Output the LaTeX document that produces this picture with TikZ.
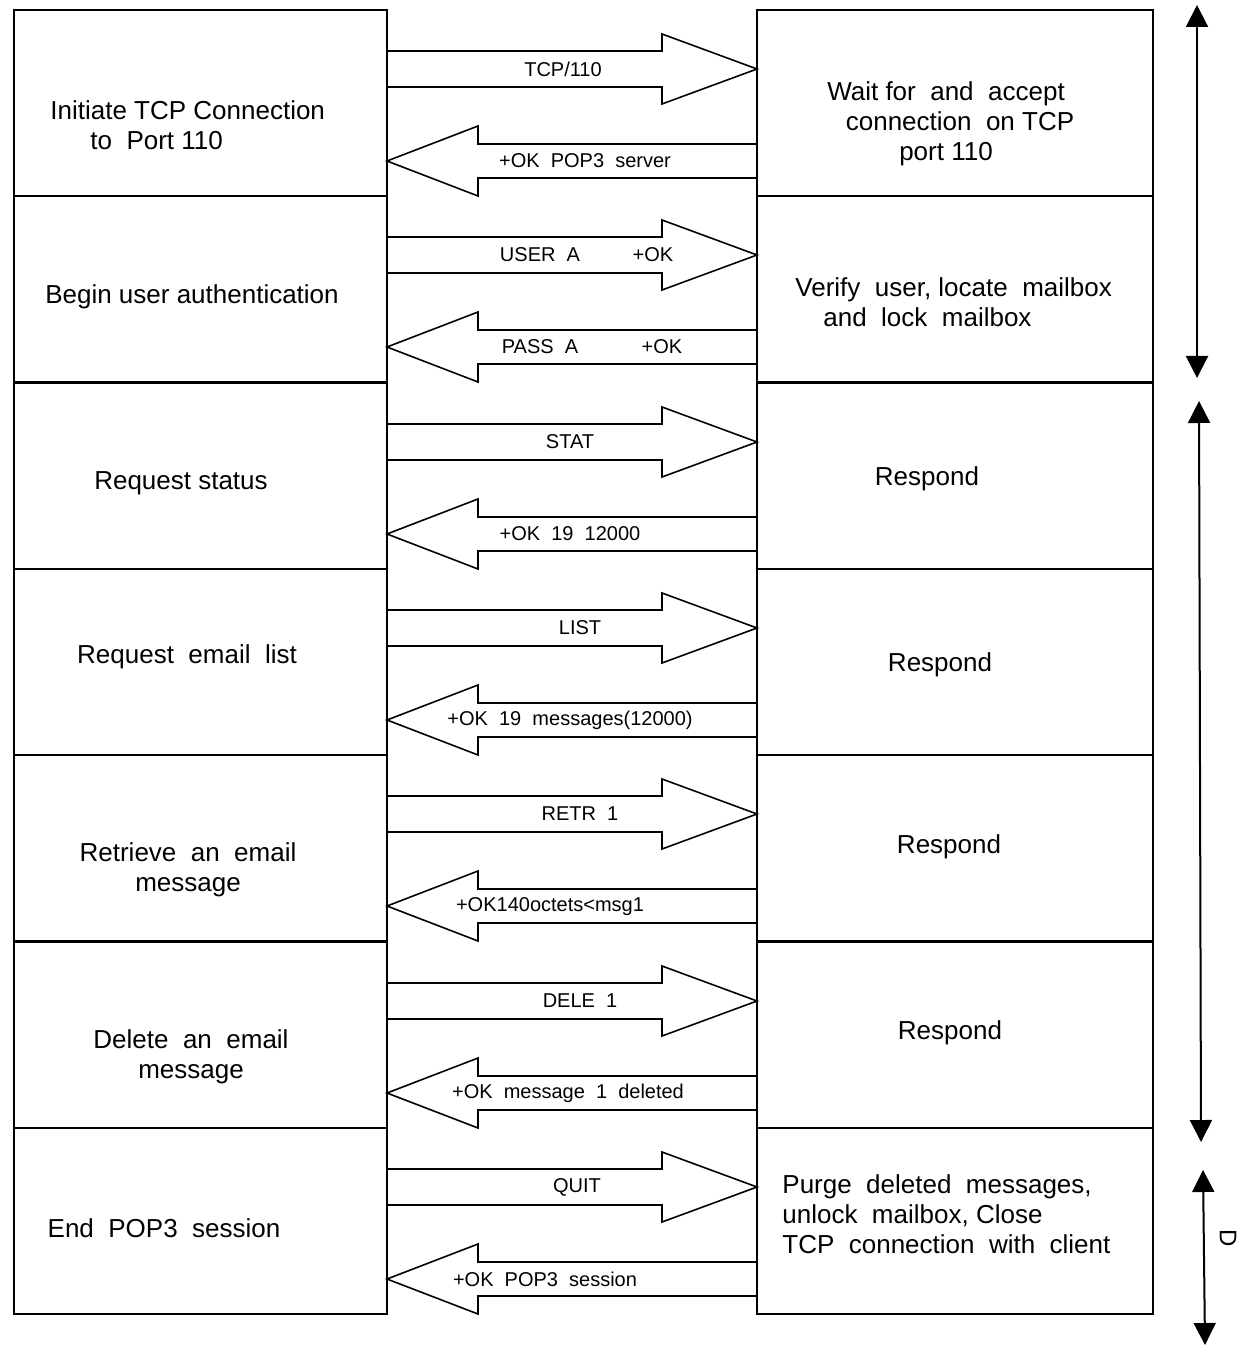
\documentclass[tikz,border=0pt]{standalone}
\usepackage{fontspec}
\setmainfont{Liberation Sans}
\usetikzlibrary{arrows.meta,calc}
\begin{document}
\begin{tikzpicture}[x=0.5pt,y=-0.5pt,
  box/.style={draw, line width=1pt, minimum width=#1, minimum height=93pt, inner sep=0pt, outer sep=0pt, anchor=north west},
  btext/.style={font=\fontsize{13}{15}\selectfont, inner sep=0pt},
  alabel/.style={font=\fontsize{10}{12}\selectfont, inner sep=0pt},
  barrow/.style={draw, line width=0.8pt, fill=white, line join=miter},
  spanarrow/.style={line width=1pt, {Triangle[width=11pt,length=11pt]}-{Triangle[width=11pt,length=11pt]}}]
\useasboundingbox (0,0) rectangle (1243,1347);

% boxes
\foreach \k/\t in {1/10,2/196,3/383,4/569,5/755,6/942,7/1128}{
  \node[box=186.5pt] (L\k) at (14,\t) {};
  \node[box=198pt] (R\k) at (757,\t) {};
}

% block arrows (client -> server above, server -> client below)
\foreach \k in {1,...,7}{
  \path (L\k.north east) coordinate (a) (R\k.north west) coordinate (b);
  \draw[barrow] ($(a)+(0,41)$) -- ($(b)+(-95,41)$) -- ($(b)+(-95,24)$) -- ($(b)+(0,59)$)
     -- ($(b)+(-95,94)$) -- ($(b)+(-95,77)$) -- ($(a)+(0,77)$) -- cycle;
  \draw[barrow] ($(b)+(0,134)$) -- ($(a)+(91,134)$) -- ($(a)+(91,116)$) -- ($(a)+(0,151)$)
     -- ($(a)+(91,186)$) -- ($(a)+(91,168)$) -- ($(b)+(0,168)$) -- cycle;
}

% arrow labels
\node[alabel] (q1) at (563,69) {TCP/110};
\node[alabel] (p1) at (585,161) {+OK\ \ POP3\ \ server};
\node[alabel] (q2a) at (540,255) {USER\ \ A};
\node[alabel] (q2b) at (653,255) {+OK};
\node[alabel] (p2a) at (540,347) {PASS\ \ A};
\node[alabel] (p2b) at (662,347) {+OK};
\node[alabel] (q3) at (570,442) {STAT};
\node[alabel] (p3) at (570,534) {+OK\ \ 19\ \ 12000};
\node[alabel] (q4) at (580,628) {LIST};
\node[alabel] (p4) at (570,720) {+OK\ \ 19\ \ messages(12000)};
\node[alabel] (q5) at (580,814) {RETR\ \ 1};
\node[alabel] (p5) at (550,907) {+OK140octets<msg1};
\node[alabel] (q6) at (580,1001) {DELE\ \ 1};
\node[alabel] (p6) at (568,1093) {+OK\ \ message\ \ 1\ \ deleted};
\node[alabel] (q7) at (577,1187) {QUIT};
\node[alabel] (p7) at (545,1279) {+OK\ \ POP3\ \ session};

% client texts
\node[btext, align=left, anchor=west] (LT1) at (50,125) {Initiate TCP Connection\\\hspace{20pt}to\ \ Port 110};
\node[btext] (LT2) at (192,297) {Begin user authentication};
\node[btext] (LT3) at (181,483) {Request status};
\node[btext] (LT4) at (187,657) {Request\ \ email\ \ list};
\node[btext, align=center] (LT5) at (188,870) {Retrieve\ \ an\ \ email\\message};
\node[btext, align=center] (LT6) at (191,1057) {Delete\ \ an\ \ email\\message};
\node[btext] (LT7) at (164,1228) {End\ \ POP3\ \ session};

% server texts
\node[btext, align=center] (RT1) at (946,124) {Wait for\ \ and\ \ accept\\\hspace{14pt}connection\ \ on TCP\\port 110};
\node[btext, align=left, anchor=west] (RT2) at (795,302) {Verify\ \ user, locate\ \ mailbox\\\hspace{14pt}and\ \ lock\ \ mailbox};
\node[btext] (RT3) at (927,479) {Respond};
\node[btext] (RT4) at (940,665) {Respond};
\node[btext] (RT5) at (949,847) {Respond};
\node[btext] (RT6) at (950,1033) {Respond};
\node[btext, align=left, anchor=west] (RT7) at (782,1214) {Purge\ \ deleted\ \ messages,\\unlock\ \ mailbox, Close\\TCP\ \ connection\ \ with\ \ client};

% phase spans
\coordinate (s1t) at (1197,5);
\coordinate (s1b) at (1197,378);
\coordinate (s2t) at (1199,401);
\coordinate (s2b) at (1201,1142);
\coordinate (s3t) at (1203,1170);
\coordinate (s3b) at (1205,1345);
\draw[spanarrow] (s1t) -- (s1b);
\draw[spanarrow] (s2t) -- (s2b);
\draw[spanarrow] (s3t) -- (s3b);
\node[font=\fontsize{12}{14}\selectfont, rotate=-90, inner sep=0pt] (D) at (1228,1238) {D};
\end{tikzpicture}
\end{document}
